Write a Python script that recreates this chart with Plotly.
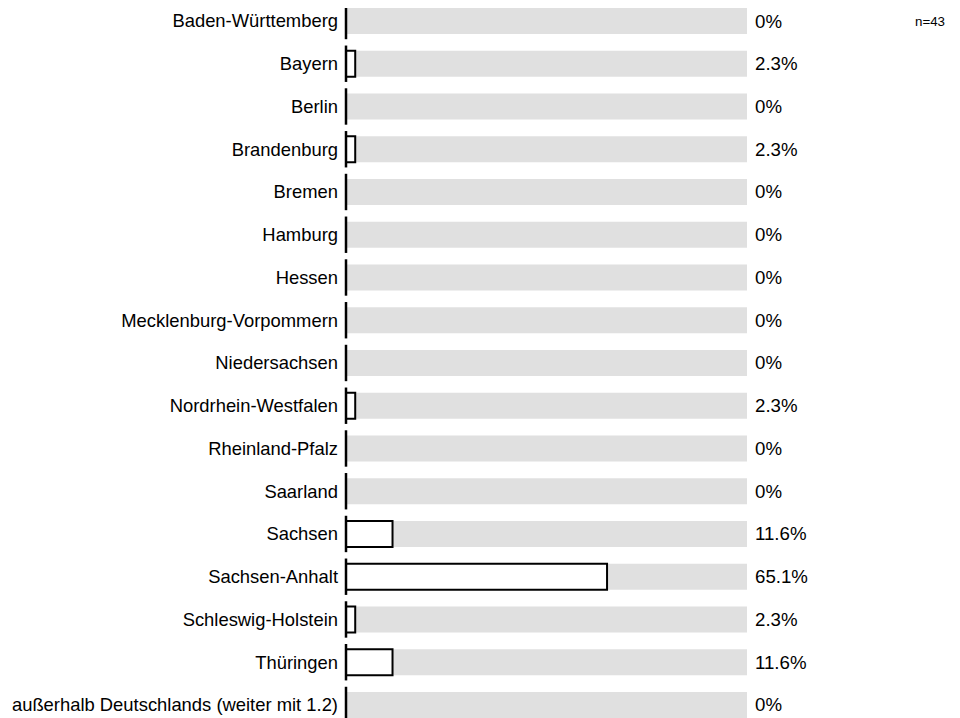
import plotly.graph_objects as go

categories = ["Baden-Württemberg", "Bayern", "Berlin", "Brandenburg", "Bremen", "Hamburg",
              "Hessen", "Mecklenburg-Vorpommern", "Niedersachsen", "Nordrhein-Westfalen",
              "Rheinland-Pfalz", "Saarland", "Sachsen", "Sachsen-Anhalt",
              "Schleswig-Holstein", "Thüringen", "außerhalb Deutschlands (weiter mit 1.2)"]
values = [0, 2.3, 0, 2.3, 0, 0, 0, 0, 0, 2.3, 0, 0, 11.6, 65.1, 2.3, 11.6, 0]
n_total = 43
full = [100] * len(categories)

FONT = "Liberation Sans, Arial, sans-serif"
FS = 18.67

fig = go.Figure()
fig.add_trace(go.Bar(y=categories, x=full, orientation="h", width=0.61,
                     marker=dict(color="#e0e0e0", line=dict(width=0)),
                     hoverinfo="skip", showlegend=False))
fig.add_trace(go.Bar(y=categories, x=values, orientation="h", width=0.61,
                     marker=dict(color="white", line=dict(color="black", width=2)),
                     showlegend=False))
# zero baseline marks
fig.add_trace(go.Scatter(y=categories, x=[0] * len(categories), mode="markers",
                         marker=dict(symbol="line-ns-open", size=26, color="black",
                                     line=dict(color="black", width=2.5)),
                         hoverinfo="skip", showlegend=False, cliponaxis=False))

for c, v in zip(categories, values):
    fig.add_annotation(x=100, y=c, xref="x", yref="y", text=f"{v:g}%",
                       showarrow=False, xanchor="left", xshift=6,
                       font=dict(family=FONT, size=FS, color="black"))

L, W = 338, 401
fig.add_annotation(x=(905 - L) / W, y=0, xref="paper", yref="y",
                   text=f"n={n_total}", showarrow=False, xanchor="left",
                   font=dict(family=FONT, size=13.33, color="black"))

fig.update_layout(
    width=960, height=718,
    margin=dict(l=L, r=960 - L - W, t=0, b=0),
    barmode="overlay",
    plot_bgcolor="white", paper_bgcolor="white",
    font=dict(family=FONT, size=FS, color="black"),
    xaxis=dict(range=[0, 100], visible=False, fixedrange=True),
    yaxis=dict(type="category", range=[16.492, -0.304], showgrid=False,
               zeroline=False, showline=False, ticks="", ticklabelstandoff=7,
               automargin=False,
               tickfont=dict(family=FONT, size=18.4, color="black")),
)

fig.write_html("out.html")
